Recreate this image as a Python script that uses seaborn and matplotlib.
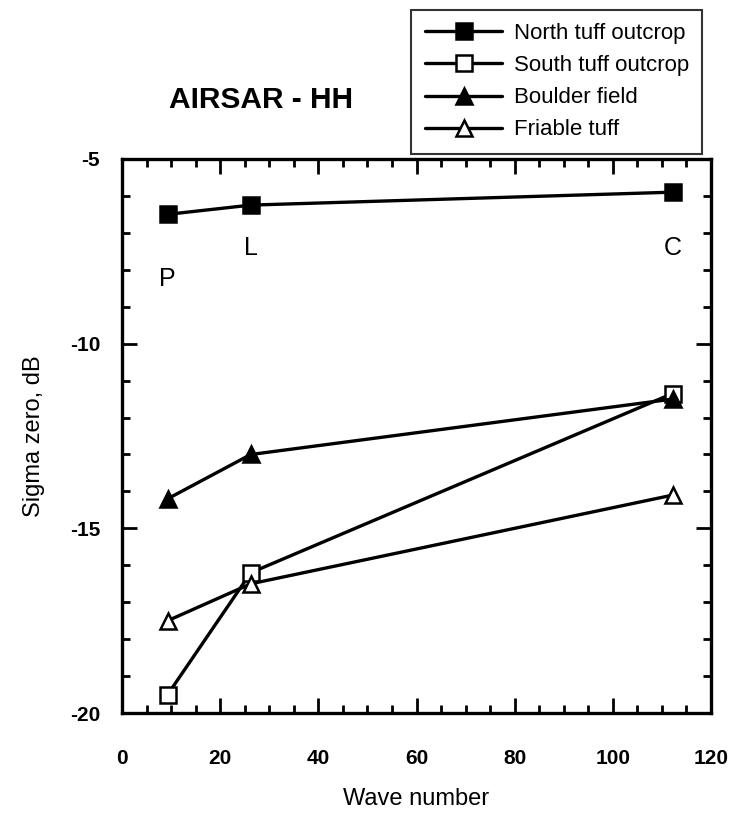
import numpy as np
import pandas as pd
import seaborn as sns
import matplotlib.pyplot as plt
from matplotlib.ticker import MultipleLocator

# Data
# wave numbers for P, L, C bands
bands = ["P", "L", "C"]
wave_number = [9.24, 26.2, 112.2]

north_tuff = [-6.5, -6.25, -5.9]
south_tuff = [-19.5, -16.2, -11.35]
boulder_field = [-14.2, -13.0, -11.5]
friable_tuff = [-17.5, -16.5, -14.1]

series_names = ["North tuff outcrop", "South tuff outcrop", "Boulder field", "Friable tuff"]
band_label_y = [-8.25, -7.4, -7.4]

sns.set_style("ticks")
plt.rcParams["font.family"] = ["Liberation Sans", "DejaVu Sans"]
plt.rcParams["axes.unicode_minus"] = False
plt.rcParams["text.color"] = "black"
plt.rcParams["axes.labelcolor"] = "black"

fig = plt.figure(figsize=(7.32, 8.15), dpi=100)
ax = fig.add_axes([0.167, 0.125, 0.804, 0.68])

styles = [
    (north_tuff, "s", "black"),
    (south_tuff, "s", "white"),
    (boulder_field, "^", "black"),
    (friable_tuff, "^", "white"),
]

for name, (vals, mk, fc) in zip(series_names, styles):
    sns.lineplot(x=wave_number, y=vals, ax=ax, color="black", lw=2.4,
                 marker=mk, markersize=11 if mk == "s" else 12,
                 markerfacecolor=fc, markeredgecolor="black",
                 markeredgewidth=1.8, label=name, legend=False)

for b, xv, yv in zip(bands, wave_number, band_label_y):
    ax.text(xv, yv, b, fontsize=18, ha="center", va="center", color="black")

ax.set_xlim(0, 120)
ax.set_ylim(-20, -5)
ax.xaxis.set_major_locator(MultipleLocator(20))
ax.xaxis.set_minor_locator(MultipleLocator(5))
ax.yaxis.set_major_locator(MultipleLocator(5))
ax.yaxis.set_minor_locator(MultipleLocator(1))

ax.tick_params(which="both", direction="in", top=True, right=True, width=2, colors="black")
ax.tick_params(which="major", length=11)
ax.tick_params(which="minor", length=6)
ax.tick_params(axis="x", which="major", pad=26, labelsize=15)
ax.tick_params(axis="y", which="major", pad=16, labelsize=15)
for lbl in ax.get_xticklabels() + ax.get_yticklabels():
    lbl.set_fontweight("bold")
for sp in ax.spines.values():
    sp.set_linewidth(2.4)
    sp.set_color("black")

ax.set_xlabel("Wave number", fontsize=17, labelpad=14)
ax.set_ylabel("Sigma zero, dB", fontsize=17, labelpad=18)

fig.text(0.356, 0.877, "AIRSAR - HH", fontsize=21.5, fontweight="bold", ha="center", va="center")

handles, labels = ax.get_legend_handles_labels()
leg = fig.legend(handles, labels, loc="upper left", bbox_to_anchor=(0.562, 0.988),
                 fontsize=16, handlelength=3.5, frameon=True, fancybox=False,
                 borderpad=0.6, labelspacing=0.5, handletextpad=0.5,
                 borderaxespad=0)
leg.get_frame().set_edgecolor("black")
leg.get_frame().set_linewidth(1.5)
leg.set_zorder(5)

fig.savefig("out.png", dpi=100)
